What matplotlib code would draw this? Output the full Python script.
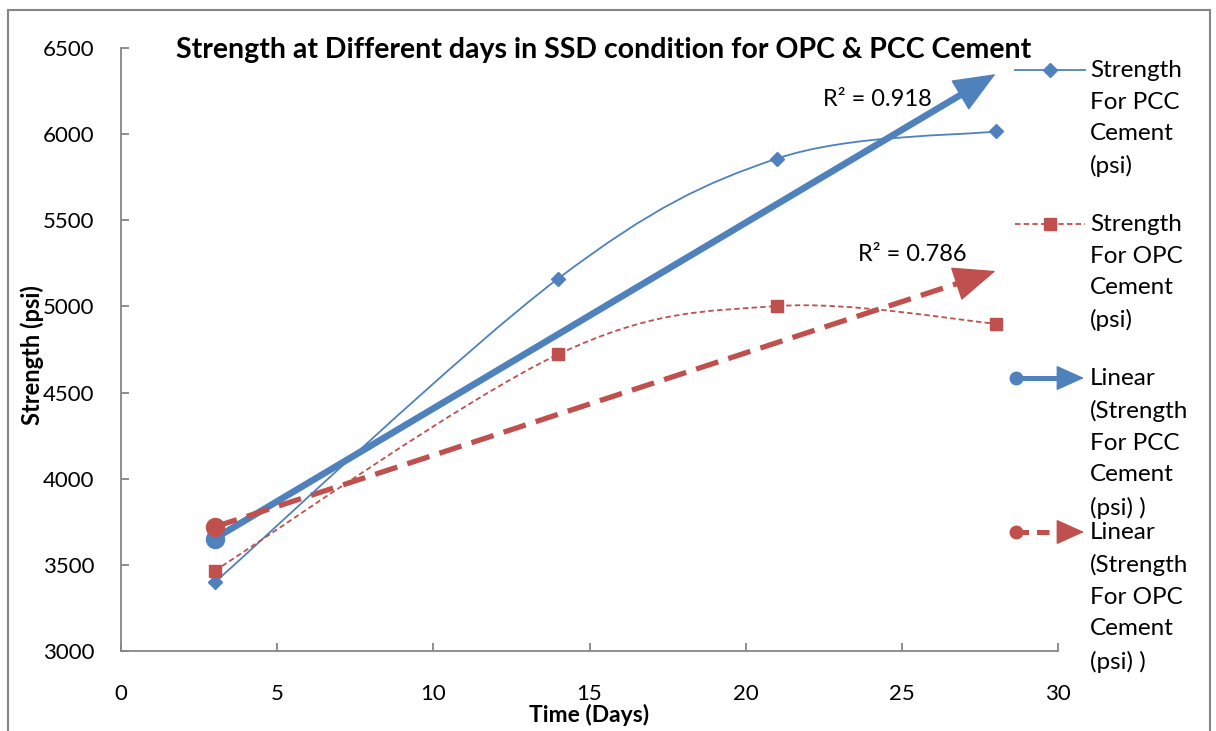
import numpy as np
import matplotlib
matplotlib.use("Agg")
import matplotlib.pyplot as plt
from matplotlib.path import Path
from matplotlib.patches import PathPatch, Rectangle, FancyArrowPatch
from matplotlib.lines import Line2D

plt.rcParams['font.family'] = ['Lato', 'DejaVu Sans']

# data
days = [3, 14, 21, 28]
pcc_strength = [3398, 5162, 5858, 6016]
opc_strength = [3466, 4722, 5002, 4900]
r2_labels = ["R² = 0.918", "R² = 0.786"]

BLUE = '#4F81BD'
RED = '#C0504D'
GRAY = '#868686'


def smooth_path(x, y):
    # Excel-like smoothed line (Catmull-Rom as cubic Bezier)
    pts = np.column_stack([x, y]).astype(float)
    n = len(pts)
    verts = [pts[0]]
    codes = [Path.MOVETO]
    for i in range(n - 1):
        p0 = pts[i - 1] if i > 0 else pts[i]
        p1, p2 = pts[i], pts[i + 1]
        p3 = pts[i + 2] if i + 2 < n else pts[i + 1]
        verts += [p1 + (p2 - p0) / 6, p2 - (p3 - p1) / 6, p2]
        codes += [Path.CURVE4] * 3
    return Path(verts, codes)


fig = plt.figure(figsize=(12.16, 7.31), dpi=100)
ax = fig.add_axes([121 / 1216, 1 - 651 / 731, 937 / 1216, 603 / 731])

# smoothed data lines
ax.add_patch(PathPatch(smooth_path(days, pcc_strength), fill=False,
                       edgecolor=BLUE, lw=1.3, zorder=3))
ax.add_patch(PathPatch(smooth_path(days, opc_strength), fill=False,
                       edgecolor=RED, lw=1.3, linestyle=(0, (3, 1.8)), zorder=3))
ax.plot(days, pcc_strength, 'D', color=BLUE, ms=7.5, zorder=4)
ax.plot(days, opc_strength, 's', color=RED, ms=8, zorder=4)

# linear trendlines with arrow heads
x0, x1 = days[0], days[-1]
for vals, col, ls in [(pcc_strength, BLUE, '-'), (opc_strength, RED, (0, (4.4, 2)))]:
    k, b = np.polyfit(days, vals, 1)
    xe = x1 - 1.0
    ax.plot([x0, xe], [k * x0 + b, k * xe + b], color=col, lw=4.8 if ls == '-' else 3.8,
            linestyle=ls, solid_capstyle='butt', zorder=2)
    ax.plot([x0], [k * x0 + b], 'o', color=col, ms=13, zorder=2)
    ax.annotate('', xy=(x1, k * x1 + b), xytext=(xe - 0.3, k * (xe - 0.3) + b),
                arrowprops=dict(arrowstyle='-|>,head_length=1.4,head_width=0.58',
                                mutation_scale=20, color=col, lw=1,
                                shrinkA=0, shrinkB=0), zorder=2)

ax.text(823 / 1216, 1 - 100 / 731, r2_labels[0], transform=fig.transFigure,
        fontsize=17, va='center', ha='left')
ax.text(858 / 1216, 1 - 255 / 731, r2_labels[1], transform=fig.transFigure,
        fontsize=17, va='center', ha='left')

ax.set_xlim(0, 30)
ax.set_ylim(3000, 6500)
ax.set_xticks(range(0, 31, 5))
ax.set_yticks(range(3000, 6501, 500))
for s in ['top', 'right']:
    ax.spines[s].set_visible(False)
for s in ['left', 'bottom']:
    ax.spines[s].set_color(GRAY)
    ax.spines[s].set_linewidth(1.3)
ax.tick_params(axis='both', direction='in', length=6, width=1.3, color=GRAY,
               labelsize=16)
ax.tick_params(axis='y', pad=19)
ax.tick_params(axis='x', pad=24)

ax.set_xlabel('Time (Days)', fontsize=16.5, fontweight='bold')
ax.xaxis.set_label_coords(0.5, -0.088)
ax.set_ylabel('Strength (psi)', fontsize=17, fontweight='bold')
ax.yaxis.set_label_coords(-0.082, 0.49)

fig.text(604 / 1216, 1 - 50 / 731,
         'Strength at Different days in SSD condition for OPC & PCC Cement',
         fontsize=20.5, fontweight='bold', ha='center', va='center')

# legend drawn by hand
legend_items = [
    ('Strength\nFor PCC\nCement\n(psi)', 70),
    ('Strength\nFor OPC\nCement\n(psi)', 224),
    ('Linear\n(Strength\nFor PCC\nCement\n(psi) )', 378),
    ('Linear\n(Strength\nFor OPC\nCement\n(psi) )', 532),
]
tr = fig.transFigure
for i, (label, ypix) in enumerate(legend_items):
    yf = 1 - ypix / 731
    fig.text(1090 / 1216, 1 - (ypix - 10) / 731, label, fontsize=17.5,
             ha='left', va='top', linespacing=1.62)
    if i == 0:
        fig.add_artist(Line2D([1015 / 1216, 1085 / 1216], [yf, yf], color=BLUE, lw=1.3,
                              transform=tr))
        fig.add_artist(Line2D([1050 / 1216], [yf], marker='D', color=BLUE, ms=7.5,
                              transform=tr))
    elif i == 1:
        fig.add_artist(Line2D([1015 / 1216, 1085 / 1216], [yf, yf], color=RED, lw=1.3,
                              linestyle=(0, (3, 1.8)), transform=tr))
        fig.add_artist(Line2D([1050 / 1216], [yf], marker='s', color=RED, ms=8,
                              transform=tr))
    else:
        col = BLUE if i == 2 else RED
        ls = '-' if i == 2 else (0, (2.5, 1.6))
        fig.add_artist(Line2D([1016 / 1216, 1062 / 1216], [yf, yf], color=col, lw=3.6,
                              linestyle=ls, solid_capstyle='butt', transform=tr))
        fig.add_artist(Line2D([1016 / 1216], [yf], marker='o', color=col, ms=9,
                              transform=tr))
        fig.add_artist(FancyArrowPatch(
            (1060 / 1216, yf), (1084 / 1216, yf), transform=tr,
            arrowstyle='-|>,head_length=1.0,head_width=0.45', mutation_scale=18,
            color=col, lw=1, shrinkA=0, shrinkB=0))

# outer chart border
fig.add_artist(Rectangle((8 / 1216, -0.02), 1202 / 1216, 1.02 - 10 / 731,
                         transform=tr, fill=False, edgecolor=GRAY, lw=1.5))

fig.savefig('out.png', dpi=100)
